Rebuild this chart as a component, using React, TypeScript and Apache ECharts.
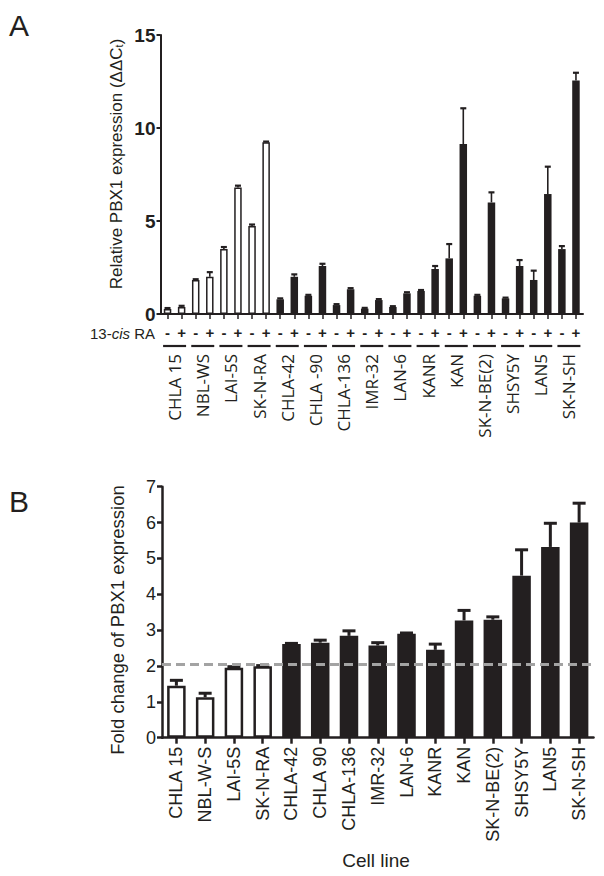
import React, { useEffect, useRef } from 'react';
import * as echarts from 'echarts';

// ---------- Panel A data ----------
const cellLinesA = ['CHLA 15', 'NBL-WS', 'LAI-5S', 'SK-N-RA', 'CHLA-42', 'CHLA -90', 'CHLA-136', 'IMR-32', 'LAN-6', 'KANR', 'KAN', 'SK-N-BE(2)', 'SHSY5Y', 'LAN5', 'SK-N-SH'];
const raTicks = ['-', '+', '-', '+', '-', '+', '-', '+', '-', '+', '-', '+', '-', '+', '-', '+', '-', '+', '-', '+', '-', '+', '-', '+', '-', '+', '-', '+', '-', '+'];
const isOpen = [true, true, true, true, false, false, false, false, false, false, false, false, false, false, false];
const meansA = [0.27, 0.38, 1.83, 2.0, 3.5, 6.8, 4.73, 9.23, 0.79, 2.0, 0.98, 2.58, 0.48, 1.33, 0.29, 0.75, 0.38, 1.11, 1.24, 2.42, 2.99, 9.14, 0.98, 6.0, 0.84, 2.58, 1.83, 6.45, 3.49, 12.56];
const errA = [0.05, 0.06, 0.04, 0.25, 0.1, 0.1, 0.08, 0.04, 0.05, 0.13, 0.05, 0.12, 0.05, 0.06, 0.04, 0.05, 0.04, 0.06, 0.05, 0.16, 0.77, 1.92, 0.05, 0.54, 0.04, 0.32, 0.5, 1.47, 0.16, 0.41];
const yTicksA = { min: 0, max: 15, interval: 5 };

// ---------- Panel B data ----------
const cellLinesB = ['CHLA 15', 'NBL-W-S', 'LAI-5S', 'SK-N-RA', 'CHLA-42', 'CHLA 90', 'CHLA-136', 'IMR-32', 'LAN-6', 'KANR', 'KAN', 'SK-N-BE(2)', 'SHSY5Y', 'LAN5', 'SK-N-SH'];
const meansB = [1.45, 1.13, 1.95, 1.99, 2.61, 2.65, 2.84, 2.57, 2.9, 2.45, 3.27, 3.29, 4.52, 5.32, 6.0];
const errB = [0.15, 0.11, 0.03, 0.02, 0.02, 0.07, 0.14, 0.08, 0.02, 0.16, 0.28, 0.08, 0.72, 0.66, 0.54];
const thresholdB = 2.06;
const yTicksB = { min: 0, max: 7, interval: 1 };

const INK = '#231f20';
const ARIAL = "'Liberation Sans', Arial, sans-serif";
const OPEN = "'Open Sans', sans-serif";

function errRender(capHalf: number, stemW: number, capW: number) {
  return (params: any, api: any) => {
    const i = api.value(0);
    const m = api.value(1);
    const e = api.value(2);
    const p0 = api.coord([i, m]);
    const p1 = api.coord([i, m + e]);
    return {
      type: 'group',
      children: [
        { type: 'line', shape: { x1: p0[0], y1: p0[1], x2: p1[0], y2: p1[1] }, style: { stroke: INK, lineWidth: stemW } },
        { type: 'line', shape: { x1: p1[0] - capHalf, y1: p1[1], x2: p1[0] + capHalf, y2: p1[1] }, style: { stroke: INK, lineWidth: capW } },
      ],
    };
  };
}

export default function App() {
  const ref = useRef<HTMLDivElement>(null);
  useEffect(() => {
    document.body.style.margin = '0';
    const chart = echarts.init(ref.current!, null, { renderer: 'svg' });

    const barDataA = meansA.map((v, i) => {
      const open = isOpen[Math.floor(i / 2)];
      return {
        value: v,
        itemStyle: open ? { color: '#ffffff', borderColor: INK, borderWidth: 1.5 } : { color: INK, borderWidth: 0 },
      };
    });
    const barDataB = meansB.map((v, i) => ({
      value: v,
      itemStyle: isOpen[i] ? { color: '#ffffff', borderColor: INK, borderWidth: 2.5 } : { color: INK, borderWidth: 0 },
    }));

    const option: any = {
      animation: false,
      backgroundColor: '#ffffff',
      grid: [
        { left: 160.5, right: 21, top: 35, height: 279, outerBoundsMode: 'none' },
        { left: 162, right: 10.5, top: 486.7, height: 251, outerBoundsMode: 'none' },
      ],
      xAxis: [
        {
          type: 'category',
          gridIndex: 0,
          data: raTicks.map((_, i) => 'r' + i),
          axisLine: { show: true, lineStyle: { color: INK, width: 2 } },
          axisTick: { show: true, alignWithLabel: true, length: 5, lineStyle: { color: INK, width: 1.5 } },
          axisLabel: {
            interval: 0,
            margin: 11,
            color: INK,
            fontFamily: ARIAL,
            fontSize: 15,
            fontWeight: 'bold',
            formatter: (_v: string, i: number) => raTicks[i],
          },
        },
        {
          type: 'category',
          gridIndex: 0,
          position: 'bottom',
          data: cellLinesA,
          axisLine: { show: false },
          axisTick: { show: false },
          axisLabel: { interval: 0, rotate: 90, margin: 40, color: INK, fontFamily: OPEN, fontSize: 17 },
        },
        {
          type: 'category',
          gridIndex: 1,
          data: cellLinesB,
          axisLine: { show: true, lineStyle: { color: INK, width: 2.5 } },
          axisTick: { show: true, alignWithLabel: true, length: 6, lineStyle: { color: INK, width: 2.5 } },
          axisLabel: { interval: 0, rotate: 90, margin: 9, color: INK, fontFamily: ARIAL, fontSize: 18 },
        },
      ],
      yAxis: [
        {
          type: 'value',
          gridIndex: 0,
          min: yTicksA.min,
          max: yTicksA.max,
          interval: yTicksA.interval,
          splitLine: { show: false },
          axisLine: { show: true, lineStyle: { color: INK, width: 2 } },
          axisTick: { show: true, length: 4, lineStyle: { color: INK, width: 2 } },
          axisLabel: { margin: 5, color: INK, fontFamily: ARIAL, fontSize: 19, fontWeight: 'bold' },
        },
        {
          type: 'value',
          gridIndex: 1,
          min: yTicksB.min,
          max: yTicksB.max,
          interval: yTicksB.interval,
          splitLine: { show: false },
          axisLine: { show: true, lineStyle: { color: INK, width: 2.5 } },
          axisTick: { show: true, length: 5, lineStyle: { color: INK, width: 2.5 } },
          axisLabel: { margin: 6, color: INK, fontFamily: ARIAL, fontSize: 18 },
        },
      ],
      series: [
        {
          type: 'bar',
          xAxisIndex: 0,
          yAxisIndex: 0,
          barWidth: 7.5,
          data: barDataA,
        },
        {
          type: 'custom',
          xAxisIndex: 0,
          yAxisIndex: 0,
          clip: false,
          z: 3,
          encode: { x: 0, y: 1 },
          renderItem: errRender(3, 1.6, 2.2),
          data: meansA.map((m, i) => [i, m, errA[i]]),
        },
        {
          type: 'custom',
          xAxisIndex: 1,
          yAxisIndex: 0,
          clip: false,
          encode: { x: 0, y: 1 },
          renderItem: (params: any, api: any) => {
            const p = api.coord([api.value(0), 0]);
            return {
              type: 'line',
              shape: { x1: p[0] - 11.5, y1: p[1] + 32, x2: p[0] + 11.5, y2: p[1] + 32 },
              style: { stroke: INK, lineWidth: 2.2 },
            };
          },
          data: cellLinesA.map((_, i) => [i, 0]),
        },
        {
          type: 'bar',
          xAxisIndex: 2,
          yAxisIndex: 1,
          barWidth: 18.5,
          data: barDataB,
          markLine: {
            silent: true,
            symbol: 'none',
            label: { show: false },
            lineStyle: { color: '#a3a3a3', type: [9, 5], width: 3 },
            data: [{ yAxis: thresholdB }],
          },
        },
        {
          type: 'custom',
          xAxisIndex: 2,
          yAxisIndex: 1,
          clip: false,
          z: 3,
          encode: { x: 0, y: 1 },
          renderItem: errRender(6.5, 3, 3),
          data: meansB.map((m, i) => [i, m, errB[i]]),
        },
      ],
      graphic: [
        { type: 'text', x: 9, y: 10, style: { text: 'A', fontFamily: ARIAL, fontSize: 30, fill: INK } },
        { type: 'text', x: 9, y: 486, style: { text: 'B', fontFamily: ARIAL, fontSize: 30, fill: INK } },
        {
          type: 'text',
          x: 116,
          y: 164,
          rotation: Math.PI / 2,
          style: {
            text: 'Relative PBX1 expression (ΔΔC{sub|t})',
            align: 'center',
            verticalAlign: 'middle',
            fontFamily: ARIAL,
            fontSize: 17,
            fill: INK,
            rich: { sub: { fontFamily: ARIAL, fontSize: 11, lineHeight: 11, verticalAlign: 'bottom', fill: INK } },
          },
        },
        {
          type: 'text',
          x: 155,
          y: 333,
          style: {
            text: '13-{it|cis} RA',
            align: 'right',
            verticalAlign: 'middle',
            fontFamily: ARIAL,
            fontSize: 15,
            fill: INK,
            rich: { it: { fontFamily: ARIAL, fontSize: 15, fontStyle: 'italic', fill: INK } },
          },
        },
        {
          type: 'text',
          x: 117,
          y: 620,
          rotation: Math.PI / 2,
          style: {
            text: 'Fold change of PBX1 expression',
            align: 'center',
            verticalAlign: 'middle',
            fontFamily: ARIAL,
            fontSize: 18.5,
            fill: INK,
          },
        },
        {
          type: 'text',
          x: 376,
          y: 860,
          style: { text: 'Cell line', align: 'center', verticalAlign: 'middle', fontFamily: ARIAL, fontSize: 19, fill: INK },
        },
      ],
    };
    chart.setOption(option);
    return () => chart.dispose();
  }, []);
  return <div ref={ref} style={{ position: 'absolute', left: 0, top: 0, width: 604, height: 876 }} />;
}
